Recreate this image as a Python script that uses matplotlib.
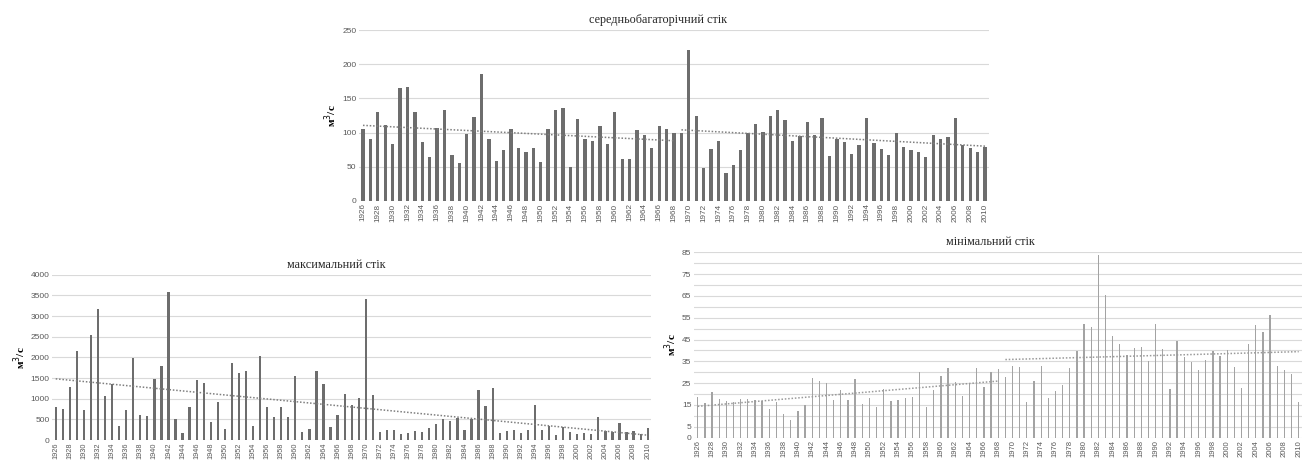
import numpy as np
import matplotlib
matplotlib.use("Agg")
import matplotlib.pyplot as plt

years = list(range(1926, 2011))

mean_flow = [105, 90.5, 130.6, 111.5, 83, 165, 167, 130, 86, 64,
             106, 132.6, 67, 55, 98, 123, 186, 91, 59, 74,
             105, 78, 72, 77, 57, 105, 133.6, 135.5, 50, 120,
             90.5, 87.6, 109, 83, 130, 60.7, 60.7, 103.7, 96, 77,
             110, 105, 99, 99, 221, 124, 48.4, 76, 87.6, 40.6,
             52, 74, 99, 112, 101, 124, 132.6, 118, 87, 95,
             116, 96, 122, 65.6, 91, 86.6, 68, 82, 121, 84,
             76, 66.5, 100, 79, 74, 72, 63.6, 97, 91, 93,
             121, 82, 77, 71, 79]

max_flow = [806, 758, 1290, 2153, 734, 2540, 3177, 1056, 1347, 330,
            718, 1992, 597, 589, 1484, 1798, 3580, 508, 161, 806,
            1452, 1379, 444, 927, 274, 1855, 1621, 1661, 330, 2032,
            806, 548, 790, 548, 1556, 185, 266, 1661, 1355, 306,
            605, 1105, 847, 1008, 3403, 1081, 194, 242, 250, 137,
            177, 210, 194, 290, 379, 516, 452, 524, 250, 516,
            1202, 823, 1266, 161, 210, 234, 161, 250, 847, 250,
            339, 129, 315, 185, 145, 169, 145, 548, 210, 194,
            419, 185, 210, 153, 290]

min_flow = [18.5, 15.7, 20.8, 17.9, 16.8, 16.4, 17.7, 17.9, 17.1, 17,
            13.3, 16.5, 11, 8, 12.2, 14.8, 27.4, 26.1, 25, 17.1,
            22, 17.1, 27, 15.6, 18.2, 13.9, 22.3, 17, 17.1, 18,
            18.7, 30.3, 14.1, 21.9, 28.1, 32, 25.7, 19.3, 24.9, 32,
            23.4, 30.3, 31.7, 27.8, 32.9, 32.4, 16.2, 25.8, 32.9, 18.3,
            21.4, 24.2, 31.8, 39.9, 52.1, 50.8, 83.6, 65.6, 46.6, 43.1,
            38.1, 41, 41.7, 35.3, 52, 40.5, 22.5, 44.5, 37.2, 34.6,
            30.9, 35.6, 39.9, 37.5, 40.4, 32.4, 22.8, 42.8, 51.8, 48.3,
            56.3, 32.7, 31, 29.4, 16.4]

titles = ["середньобагаторічний стік", "максимальний стік", "мінімальний стік"]
ylabel = "м$^3$/с"
split_year = 1969

fig = plt.figure(figsize=(13.07, 4.61), dpi=100)
fig.patch.set_facecolor("white")

GRID = "#d9d9d9"
TICK = "#595959"
SERIF = ["Liberation Serif", "DejaVu Serif"]
SANS = ["Liberation Sans", "DejaVu Sans"]


def style_axes(ax, ymax, yticks, ylabels, title, title_x, xfs):
    ax.set_xlim(1925.5, 2010.5)
    ax.set_ylim(0, ymax)
    for s in ax.spines.values():
        s.set_visible(False)
    ax.set_yticks(yticks)
    ax.set_yticklabels(ylabels, fontsize=6, color=TICK, family=SANS)
    ax.yaxis.grid(True, color=GRID, linewidth=0.8)
    ax.set_axisbelow(True)
    ax.tick_params(axis="both", length=0, pad=2)
    xt = years[::2]
    ax.set_xticks(xt)
    ax.set_xticklabels([str(y) for y in xt], rotation=90, fontsize=xfs,
                       color=TICK, family=SANS)
    ax.set_title(title, fontsize=8.7, family=SERIF, color="#262626",
                 x=title_x, pad=5)
    ax.set_ylabel(ylabel, fontsize=8, family=SERIF, fontweight="bold",
                  labelpad=2)


def trend(ax, xs, ys, color="#7f7f7f"):
    xs = np.array(xs, dtype=float)
    ys = np.array(ys, dtype=float)
    k, b = np.polyfit(xs, ys, 1)
    ax.plot(xs, k * xs + b, linestyle=(0, (1, 1.2)), color=color, linewidth=1.1)


i = years.index(split_year)

# top: mean flow
ax1 = fig.add_axes([0.2749, 0.5646, 0.4816, 0.3696])
ax1.bar(years, mean_flow, width=0.45, color="#6d6d6d")
trend(ax1, years[:i], mean_flow[:i])
trend(ax1, years[i:], mean_flow[i:])
style_axes(ax1, 250, [0, 50, 100, 150, 200, 250],
           ["0", "50", "100", "150", "200", "250"], titles[0], 0.4746, 5.9)

# bottom-left: max flow
ax2 = fig.add_axes([0.03994, 0.04555, 0.4583, 0.3586])
ax2.bar(years, max_flow, width=0.32, color="#6d6d6d")
trend(ax2, years, max_flow)
style_axes(ax2, 4000, list(range(0, 4001, 500)),
           [str(v) for v in range(0, 4001, 500)], titles[1], 0.475, 5.3)

# bottom-right: min flow
ax3 = fig.add_axes([0.5311, 0.0505, 0.4653, 0.4022])
ax3.bar(years, min_flow, width=0.18, color="#a3a3a3")
trend(ax3, years[:i], min_flow[:i], color="#9a9a9a")
trend(ax3, years[i:], min_flow[i:], color="#9a9a9a")
yt = list(range(0, 86, 5))
yl = [str(v) if (v == 0 or v % 10 == 5) else "" for v in yt]
style_axes(ax3, 85, yt, yl, titles[2], 0.488, 5.5)

fig.savefig("out.png", dpi=100, facecolor="white")
